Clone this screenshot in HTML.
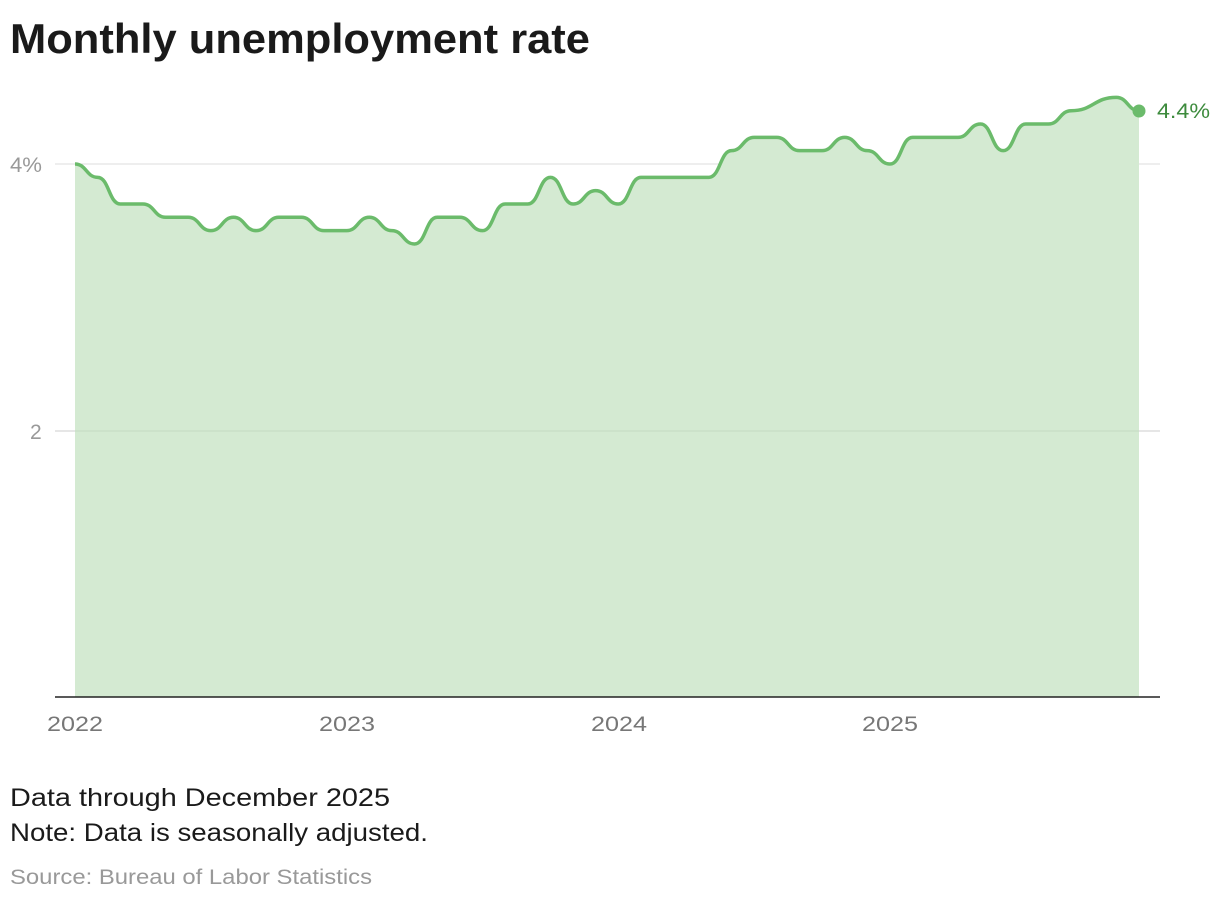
<!DOCTYPE html>
<html><head><meta charset="utf-8"><style>
body{margin:0;background:#fff;width:1220px;height:902px;overflow:hidden;font-family:"Liberation Sans",sans-serif}
</style></head><body>
<svg width="1220" height="902" xmlns="http://www.w3.org/2000/svg" font-family="Liberation Sans, sans-serif">
<text x="10" y="53" font-size="42" font-weight="bold" fill="#1a1a1a" textLength="580" lengthAdjust="spacingAndGlyphs">Monthly unemployment rate</text>
<line x1="55" y1="164" x2="1160" y2="164" stroke="#ddd" stroke-width="1"/>
<line x1="55" y1="431" x2="1160" y2="431" stroke="#ddd" stroke-width="1"/>
<path id="area" fill="#d4ead2"/>
<line x1="55" y1="431" x2="1160" y2="431" stroke="#000" stroke-opacity="0.07" stroke-width="1"/>
<path id="line" fill="none" stroke="#6bbb6b" stroke-width="3.5" stroke-linejoin="round"/>
<line x1="55" y1="697" x2="1160" y2="697" stroke="#222" stroke-width="1.5"/>
<text x="10" y="172" font-size="21" fill="#999" textLength="32" lengthAdjust="spacingAndGlyphs">4%</text>
<text x="30" y="439" font-size="21" fill="#999">2</text>
<g font-size="21" fill="#777">
<text x="47" y="731" textLength="56" lengthAdjust="spacingAndGlyphs">2022</text>
<text x="319" y="731" textLength="56" lengthAdjust="spacingAndGlyphs">2023</text>
<text x="591" y="731" textLength="56" lengthAdjust="spacingAndGlyphs">2024</text>
<text x="862" y="731" textLength="56" lengthAdjust="spacingAndGlyphs">2025</text>
</g>
<circle cx="1139" cy="111" r="6.5" fill="#6bbb6b"/>
<text x="1157" y="118" font-size="21" fill="#3d8b3d" textLength="53" lengthAdjust="spacingAndGlyphs">4.4%</text>
<text x="10" y="806" font-size="25" fill="#1a1a1a" textLength="380" lengthAdjust="spacingAndGlyphs">Data through December 2025</text>
<text x="10" y="841" font-size="25" fill="#1a1a1a" textLength="418" lengthAdjust="spacingAndGlyphs">Note: Data is seasonally adjusted.</text>
<text x="10" y="884" font-size="21" fill="#999" textLength="362" lengthAdjust="spacingAndGlyphs">Source: Bureau of Labor Statistics</text>
</svg>
<script>
var d=[4.0,3.9,3.7,3.7,3.6,3.6,3.5,3.6,3.5,3.6,3.6,3.5,
3.5,3.6,3.5,3.4,3.6,3.6,3.5,3.7,3.7,3.9,3.7,3.8,
3.7,3.9,3.9,3.9,3.9,4.1,4.2,4.2,4.1,4.1,4.2,4.1,
4.0,4.2,4.2,4.2,4.3,4.1,4.3,4.3,4.4,null,4.5,4.4];
var p=[];d.forEach(function(v,i){if(v!==null)p.push([75+i*22.638,697-v*133.25]);});
var s="M"+p[0][0]+","+p[0][1];
for(var i=0;i<p.length-1;i++){
var p1=p[i],p2=p[i+1],dx=(p2[0]-p1[0])*0.5;
var y1=p1[1],y2=p2[1];
if(i==1){y1=p1[1];}
s+=" C"+(p1[0]+dx)+","+y1+" "+(p2[0]-dx)+","+y2+" "+p2[0]+","+p2[1];
}
document.getElementById("line").setAttribute("d",s);
document.getElementById("area").setAttribute("d",s+" L"+p[p.length-1][0]+",697 L75,697 Z");
</script>
</body></html>
